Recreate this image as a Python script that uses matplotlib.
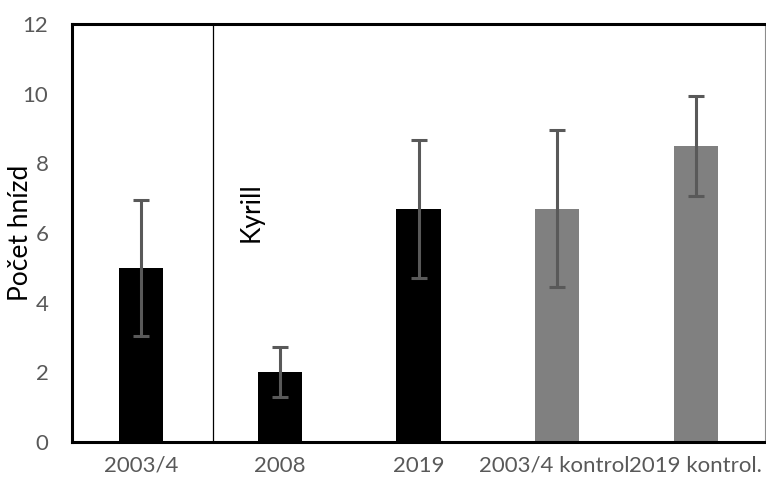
import matplotlib
matplotlib.use("Agg")
import matplotlib.pyplot as plt

plt.rcParams['font.family'] = ['Lato', 'DejaVu Sans']

categories = ["2003/4", "2008", "2019", "2003/4 kontrol.", "2019 kontrol."]
values = [5.0, 2.0, 6.7, 6.7, 8.5]
errors = [1.95, 0.72, 1.98, 2.25, 1.44]
colors = ["#000000", "#000000", "#000000", "#808080", "#808080"]
y_ticks = [0, 2, 4, 6, 8, 10, 12]

fig = plt.figure(figsize=(7.66, 4.84), dpi=100)
ax = fig.add_axes([72 / 766, 42 / 484, 693 / 766, 418 / 484])

x = list(range(len(categories)))
ax.bar(x, values, width=0.32, color=colors, zorder=2)
ax.errorbar(x, values, yerr=errors, fmt='none', ecolor="#595959",
            elinewidth=2.2, capsize=6, capthick=2.2, zorder=3)

ax.set_xlim(-0.5, len(categories) - 0.5)
ax.set_ylim(0, 12)
ax.set_yticks(y_ticks)
ax.set_xticks(x)
ax.set_xticklabels(categories)
ax.tick_params(axis='both', length=0, labelsize=16, labelcolor="#595959")
ax.tick_params(axis='y', pad=17)
ax.tick_params(axis='x', pad=10)

for side in ('left', 'top', 'bottom'):
    ax.spines[side].set_linewidth(2.2)
    ax.spines[side].set_color("black")
ax.spines['right'].set_linewidth(0.8)
ax.spines['right'].set_color("#8c8c8c")

# Kyrill windstorm marker between first and second period
ax.axvline(0.52, color="black", linewidth=0.9, zorder=1)
ax.text(0.79, 6.6, "Kyrill", rotation=90, ha='center', va='center',
        fontsize=19, color="black")

ax.set_ylabel("Počet hnízd", fontsize=19, color="black")
ax.yaxis.set_label_coords(-0.056, 0.5)

fig.savefig("out.png", dpi=100)
